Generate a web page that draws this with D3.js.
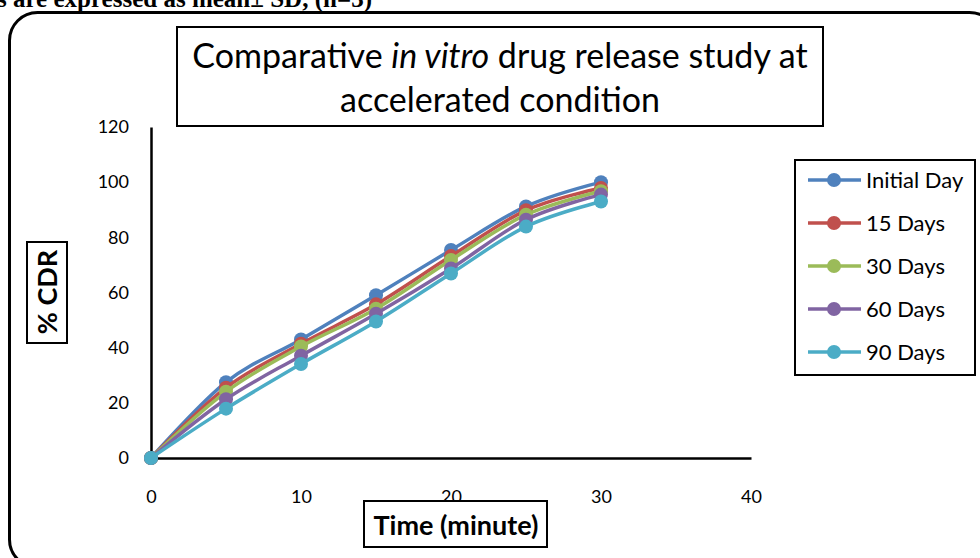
<!DOCTYPE html>
<html>
<head>
<meta charset="utf-8">
<script src="https://cdn.jsdelivr.net/npm/d3@7"></script>
<style>
  body { margin: 0; background: #fff; }
  svg { display: block; }
</style>
</head>
<body>
<div id="chart"></div>
<script>
var times = [0, 5, 10, 15, 20, 25, 30];
var seriesNames = ["Initial Day", "15 Days", "30 Days", "60 Days", "90 Days"];
var initialDay = [0, 27.5, 43, 59, 75.4, 91.2, 100];
var days15 = [0, 25.5, 41.4, 55.7, 73.2, 89.8, 97.9];
var days30 = [0, 24, 40.4, 54.1, 71.8, 88.2, 96.7];
var days60 = [0, 21.3, 37.1, 52.3, 68.7, 86.4, 95.5];
var days90 = [0, 17.9, 34.1, 49.5, 66.9, 83.9, 93];
var xTicks = [0, 10, 20, 30, 40];
var yTicks = [0, 20, 40, 60, 80, 100, 120];
var colors = ["#4F81BD", "#C0504D", "#9BBB59", "#8064A2", "#4BACC6"];

function init() {
    var W = 980, H = 558;
    var font = "Lato, 'Open Sans', sans-serif";

    var svg = d3.select("#chart").append("svg")
        .attr("width", W)
        .attr("height", H);

    // cut-off caption line from the page above
    svg.append("text")
        .attr("x", -3).attr("y", 7)
        .style("font-family", "'Liberation Serif', 'Times New Roman', serif")
        .style("font-weight", "bold")
        .style("font-size", "25px")
        .text("s are expressed as mean\u00B1 SD, (n=3)");

    // outer chart frame with rounded corners
    svg.append("rect")
        .attr("x", 9.5).attr("y", 12.5)
        .attr("width", 988).attr("height", 555)
        .attr("rx", 28).attr("ry", 28)
        .style("fill", "none")
        .style("stroke", "#000")
        .style("stroke-width", 3);

    var x = d3.scaleLinear().domain([0, 40]).range([151, 751]);
    var y = d3.scaleLinear().domain([0, 120]).range([458, 127]);

    // axes
    var xAxis = svg.append("g")
        .attr("transform", "translate(0," + y(0) + ")")
        .call(d3.axisBottom(x).tickValues(xTicks).tickSize(0).tickPadding(39));
    var yAxis = svg.append("g")
        .attr("transform", "translate(" + x(0) + ",0)")
        .call(d3.axisLeft(y).tickValues(yTicks).tickSize(0).tickPadding(22));
    [xAxis, yAxis].forEach(function (a) {
        a.select(".domain").style("stroke", "#000").style("stroke-width", 2.5);
        a.selectAll("text")
            .style("font-family", font)
            .style("font-size", "18px")
            .style("fill", "#000");
    });
    xAxis.selectAll("text").attr("dy", "0.35em");

    var data = [initialDay, days15, days30, days60, days90];

    var line = d3.line()
        .x(function (d, i) { return x(times[i]); })
        .y(function (d) { return y(d); })
        .curve(d3.curveCardinal.tension(0));

    data.forEach(function (vals, s) {
        var g = svg.append("g");
        g.append("path")
            .datum(vals)
            .attr("d", line)
            .style("fill", "none")
            .style("stroke", colors[s])
            .style("stroke-width", 3.5);
        g.selectAll("circle")
            .data(vals)
            .enter()
            .append("circle")
            .attr("cx", function (d, i) { return x(times[i]); })
            .attr("cy", function (d) { return y(d); })
            .attr("r", 7)
            .style("fill", colors[s]);
    });

    // title box
    svg.append("rect")
        .attr("x", 177).attr("y", 27)
        .attr("width", 646).attr("height", 99)
        .style("fill", "#fff")
        .style("stroke", "#000")
        .style("stroke-width", 2);
    var t1 = svg.append("text")
        .attr("x", 500).attr("y", 68)
        .attr("text-anchor", "middle")
        .style("font-family", font)
        .style("font-size", "34px");
    t1.append("tspan").text("Comparative ");
    t1.append("tspan").style("font-style", "italic").text("in vitro");
    t1.append("tspan").text(" drug release study at");
    svg.append("text")
        .attr("x", 500).attr("y", 112)
        .attr("text-anchor", "middle")
        .style("font-family", font)
        .style("font-size", "34px")
        .text("accelerated condition");

    // y axis title box
    svg.append("rect")
        .attr("x", 27).attr("y", 242)
        .attr("width", 40).attr("height", 101)
        .style("fill", "#fff")
        .style("stroke", "#000")
        .style("stroke-width", 2);
    svg.append("text")
        .attr("transform", "translate(57,292) rotate(-90)")
        .attr("text-anchor", "middle")
        .style("font-family", font)
        .style("font-weight", "bold")
        .style("font-size", "27px")
        .text("% CDR");

    // x axis title box
    svg.append("rect")
        .attr("x", 364).attr("y", 501)
        .attr("width", 183).attr("height", 46)
        .style("fill", "#fff")
        .style("stroke", "#000")
        .style("stroke-width", 2);
    svg.append("text")
        .attr("x", 456).attr("y", 535)
        .attr("text-anchor", "middle")
        .style("font-family", font)
        .style("font-weight", "bold")
        .style("font-size", "27px")
        .text("Time (minute)");

    // legend
    svg.append("rect")
        .attr("x", 795).attr("y", 160)
        .attr("width", 180).attr("height", 215)
        .style("fill", "#fff")
        .style("stroke", "#000")
        .style("stroke-width", 2);
    var ly = d3.scalePoint().domain(seriesNames).range([180, 352]);
    var items = svg.append("g").selectAll("g")
        .data(seriesNames)
        .enter()
        .append("g")
        .attr("transform", function (d) { return "translate(0," + ly(d) + ")"; });
    items.append("line")
        .attr("x1", 808).attr("x2", 861)
        .style("stroke", function (d, i) { return colors[i]; })
        .style("stroke-width", 3.5);
    items.append("circle")
        .attr("cx", 834).attr("r", 7)
        .style("fill", function (d, i) { return colors[i]; });
    items.append("text")
        .attr("x", 866).attr("dy", "0.35em")
        .style("font-family", font)
        .style("font-size", "22px")
        .text(function (d) { return d; });
}

window.onload = init;
</script>
</body>
</html>
